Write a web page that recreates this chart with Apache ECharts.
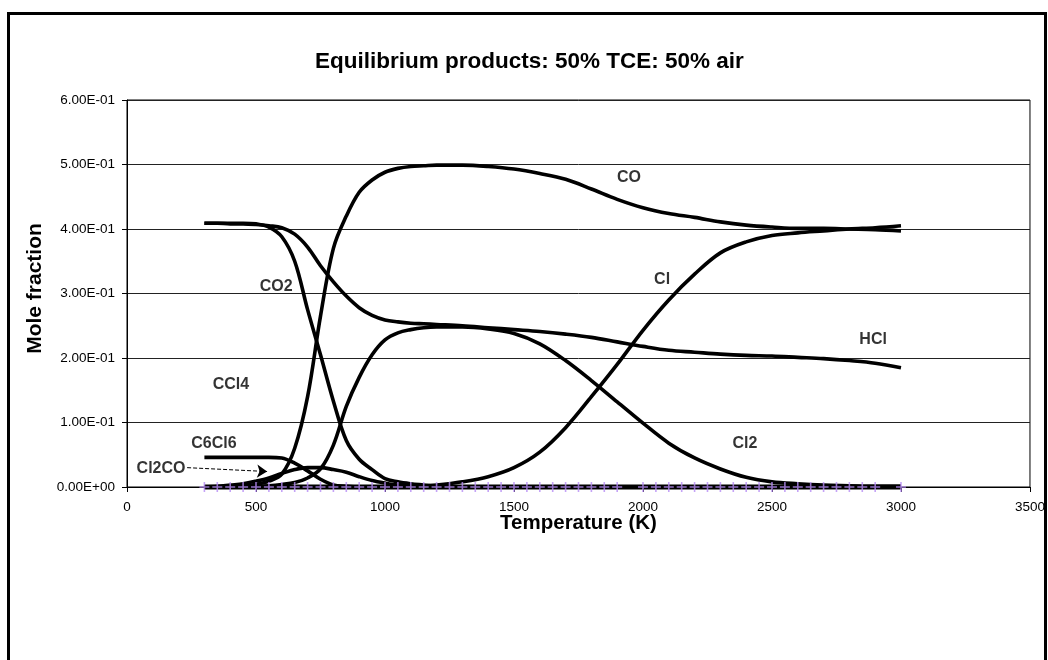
<!DOCTYPE html>
<html>
<head>
<meta charset="utf-8">
<script src="https://cdn.jsdelivr.net/npm/echarts@6/dist/echarts.min.js"></script>
<style>
html,body{margin:0;padding:0;background:#fff;}
#chart{width:1048px;height:660px;}
</style>
</head>
<body>
<div id="chart"></div>
<script>
// Temperatures (K) at which curve values were read
var temps = [300,350,400,450,500,550,600,650,700,750,800,850,900,950,1000,1050,1100,1150,1200,
  1300,1400,1500,1600,1700,1800,1900,2000,2100,2200,2300,2400,2500,2600,2700,2800,2900,3000];

var CCl4  = [0.409,0.409,0.409,0.409,0.408,0.403,0.388,0.350,0.275,0.205,0.133,0.072,0.043,0.027,0.013,0.008,0.005,0.003,0.001,
  0,0,0,0,0,0,0,0,0,0,0,0,0,0,0,0,0,0,0];
var HCl   = [0.409,0.409,0.408,0.408,0.407,0.405,0.402,0.392,0.372,0.343,0.318,0.296,0.278,0.266,0.259,0.256,0.254,0.253,0.252,
  0.250,0.247,0.244,0.241,0.237,0.232,0.225,0.218,0.212,0.209,0.206,0.204,0.203,0.201,0.199,0.196,0.192,0.185];
var CO    = [0,0,0.001,0.002,0.004,0.009,0.020,0.060,0.140,0.265,0.370,0.420,0.457,0.476,0.488,0.494,0.497,0.498,0.499,
  0.499,0.497,0.493,0.486,0.477,0.462,0.446,0.433,0.424,0.418,0.411,0.406,0.403,0.401,0.401,0.400,0.399,0.397];
var Cl2   = [0,0,0,0.001,0.001,0.002,0.004,0.007,0.014,0.028,0.065,0.125,0.170,0.205,0.228,0.239,0.244,0.247,0.248,
  0.248,0.245,0.238,0.222,0.196,0.165,0.132,0.099,0.068,0.045,0.028,0.015,0.008,0.005,0.003,0.002,0.001,0.001];
var Cl    = [0,0,0,0,0,0,0,0,0,0,0,0,0,0,0,0,0.001,0.002,0.003,
  0.008,0.016,0.030,0.054,0.092,0.140,0.190,0.243,0.290,0.330,0.363,0.380,0.390,0.394,0.397,0.400,0.402,0.405];
var C6Cl6 = [0.046,0.046,0.046,0.046,0.046,0.046,0.045,0.037,0.025,0.012,0.003,0.001,0,0,0,0,0,0,0,
  0,0,0,0,0,0,0,0,0,0,0,0,0,0,0,0,0,0];
var Cl2CO = [0,0.001,0.003,0.005,0.009,0.014,0.021,0.027,0.030,0.030,0.027,0.023,0.016,0.010,0.006,0.003,0.002,0.001,0,
  0,0,0,0,0,0,0,0,0,0,0,0,0,0,0,0,0,0];
var minor = [0,0,0,0,0,0,0,0,0,0,0,0,0,0,0,0,0,0,0,
  0,0,0,0,0,0,0,0,0,0,0,0,0,0,0,0,0,0];

// Cross-marker series (near-zero species)
var crossTemps = [300,350,400,450,500,550,600,650,700,750,800,850,900,950,1000,1050,1100,1150,1200,1250,1300,1350,1400,1450,1500,
  1550,1600,1650,1700,1750,1800,1850,1900,2000,2050,2100,2150,2200,2250,2300,2350,2400,2450,2500,2550,2600,2650,2700,2750,
  2800,2850,2900,3000];
var crossVals = [0,0,0,0,0,0,0,0,0,0,0,0,0,0,0,0,0,0,0,0,0,0,0,0,0,0,0,0,0,0,0,0,0,0,0,0,0,0,0,0,0,0,0,0,0,0,0,0,0,0,0,0,0];

// In-plot labels (data coordinates)
var labelNames = ['CO2','CCl4','C6Cl6','Cl2CO','CO','Cl','HCl','Cl2'];
var labelT = [578, 403, 337, 132, 1946, 2074, 2892, 2395];
var labelV = [0.310, 0.158, 0.068, 0.029, 0.479, 0.321, 0.229, 0.068];

// Arrow from "Cl2CO" label to its curve
var arrowFrom = [233, 0.030];
var arrowTo = [543, 0.024];

var yTicks = [0, 0.1, 0.2, 0.3, 0.4, 0.5, 0.6];
var xTicks = [0, 500, 1000, 1500, 2000, 2500, 3000, 3500];

var FONT = "'Liberation Sans', Arial, sans-serif";

function sci(v){
  if (Math.abs(v) < 1e-12) return '0.00E+00';
  var e = Math.floor(Math.log10(Math.abs(v)) + 1e-9);
  var m = v / Math.pow(10, e);
  return m.toFixed(2) + 'E' + (e < 0 ? '-' : '+') + String(Math.abs(e)).padStart(2, '0');
}
function pairs(xs, ys){ return xs.map(function(x, i){ return [x, ys[i]]; }); }

function lineSeries(name, vals, extra){
  var s = {
    name: name, type: 'line', data: pairs(temps, vals),
    showSymbol: false, symbol: 'none', smooth: 0.35, clip: false,
    lineStyle: { color: '#000', width: 3.6 },
    itemStyle: { color: '#000' },
    emphasis: { disabled: true }, silent: true, z: 3
  };
  if (extra) for (var k in extra) s[k] = extra[k];
  return s;
}

var chart = echarts.init(document.getElementById('chart'), null, { renderer: 'canvas' });
chart.setOption({
  animation: false,
  backgroundColor: '#ffffff',
  title: {
    text: 'Equilibrium products: 50% TCE: 50% air',
    left: 315, top: 50, padding: 0,
    textStyle: { fontFamily: FONT, fontSize: 22.5, fontWeight: 'bold', color: '#000' }
  },
  graphic: [{
    type: 'rect', left: 6, top: 11, silent: true,
    shape: { width: 1037, height: 720 },
    style: { fill: 'none', stroke: '#000', lineWidth: 3 }
  }],
  grid: { left: 127, right: 17, top: 100, bottom: 173, show: true, borderColor: '#000', borderWidth: 1, backgroundColor: 'transparent' },
  xAxis: {
    type: 'value', min: xTicks[0], max: xTicks[xTicks.length - 1], interval: 500,
    name: 'Temperature (K)', nameLocation: 'middle', nameGap: 26, nameMoveOverlap: false,
    nameTextStyle: { fontFamily: FONT, fontSize: 20.5, fontWeight: 'bold', color: '#000' },
    axisLine: { show: true, lineStyle: { color: '#000', width: 1 } },
    axisTick: { show: true, inside: false, length: 5, lineStyle: { color: '#000' } },
    axisLabel: { fontFamily: FONT, fontSize: 13.5, color: '#000', margin: 13, formatter: function(v){ return String(v); } },
    splitLine: { show: false }
  },
  yAxis: {
    type: 'value', min: yTicks[0], max: yTicks[yTicks.length - 1], interval: 0.1,
    name: 'Mole fraction', nameLocation: 'middle', nameGap: 80, nameRotate: 90,
    nameTextStyle: { fontFamily: FONT, fontSize: 21, fontWeight: 'bold', color: '#000', padding: [0, 0, 0, 10] },
    axisLine: { show: true, lineStyle: { color: '#000', width: 1 } },
    axisTick: { show: true, inside: false, length: 5, lineStyle: { color: '#000' } },
    axisLabel: { fontFamily: FONT, fontSize: 13.5, color: '#000', margin: 12, formatter: sci },
    splitLine: { show: true, lineStyle: { color: '#222', width: 1 } }
  },
  series: [
    lineSeries('minor', minor, { lineStyle: { color: '#000', width: 5 } }),
    lineSeries('CCl4', CCl4),
    lineSeries('HCl', HCl),
    lineSeries('CO', CO),
    lineSeries('Cl2', Cl2),
    lineSeries('Cl', Cl),
    lineSeries('C6Cl6', C6Cl6),
    lineSeries('Cl2CO', Cl2CO, {
      markLine: {
        silent: true, animation: false,
        symbol: ['none', 'arrow'], symbolSize: 10,
        label: { show: false },
        lineStyle: { color: '#000', type: 'dashed', width: 1 },
        data: [[{ coord: arrowFrom }, { coord: arrowTo }]]
      }
    }),
    {
      name: 'near-zero', type: 'scatter', data: pairs(crossTemps, crossVals),
      symbol: 'path://M4.2,0H5.8V4.2H10V5.8H5.8V10H4.2V5.8H0V4.2H4.2Z', symbolSize: 10,
      itemStyle: { color: '#b68cf5' }, silent: true, z: 5, clip: false
    },
    {
      name: 'labels', type: 'scatter',
      data: labelNames.map(function(n, i){ return { value: [labelT[i], labelV[i]], name: n }; }),
      symbolSize: 0, silent: true, z: 6,
      label: {
        show: true, position: 'inside', formatter: function(p){ return p.name; },
        fontFamily: FONT, fontSize: 16, fontWeight: 'bold', color: '#000'
      }
    }
  ]
});
</script>
</body>
</html>
